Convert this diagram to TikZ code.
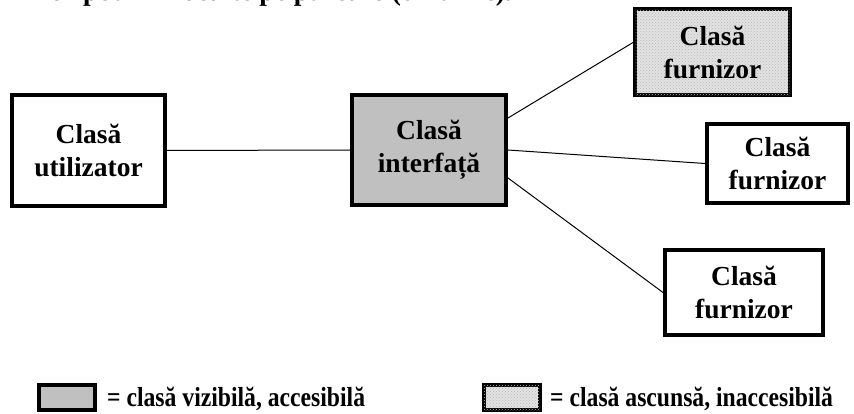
\documentclass[tikz,border=0pt]{standalone}
\usepackage{fontspec}
\setmainfont{Liberation Serif}
\newfontfamily\legendfont[FakeStretch=0.86]{Liberation Serif}
\usetikzlibrary{patterns}
\definecolor{boxgray}{HTML}{C0C0C0}
\definecolor{dotgray}{HTML}{E2E2E2}
\begin{document}
\begin{tikzpicture}[x=1pt,y=-1pt,
  cls/.style={draw, line width=4pt, inner sep=0pt, align=center,
    font=\bfseries\fontsize{27.5}{33}\selectfont},
  visible/.style={fill=boxgray},
  hidden/.style={fill=dotgray, postaction={pattern=crosshatch dots, pattern color=gray!55}},
  link/.style={line width=1pt},
  legtext/.style={anchor=base west, inner sep=0pt, font=\legendfont\bfseries\fontsize{27.5}{30}\selectfont}]
  \useasboundingbox (0,0) rectangle (854,414);

  % caption line above, cut by the page edge
  \begin{scope}
    \clip (0,0) rectangle (854,414);
    \node[anchor=base east, inner sep=0pt, font=\bfseries\fontsize{27.5}{33}\selectfont]
      (title) at (512,1) {Clasele furnizor pot fi înlocuite pe parcurs (dinamic).};
  \end{scope}

  % classes
  \node[cls, minimum width=153pt, minimum height=111pt] (U) at (88.5,150.5) {Clasă\\utilizator};
  \node[cls, visible, minimum width=154pt, minimum height=110pt] (I) at (429,150) {Clasă\\interfață};
  \node[cls, hidden, minimum width=155pt, minimum height=86pt] (F1) at (712.5,52.5) {Clasă\\furnizor};
  \node[cls, minimum width=141pt, minimum height=79pt] (F2) at (777.5,163.5) {Clasă\\furnizor};
  \node[cls, minimum width=158pt, minimum height=85pt] (F3) at (744,292.5) {Clasă\\furnizor};

  % associations
  \draw[link] (U.east) -- (I.west);
  \draw[link] ([yshift=32pt]I.east) -- ([yshift=10pt]F1.west);
  \draw[link] (I.east) -- (F2.west);
  \draw[link] ([yshift=-28pt]I.east) -- (F3.west);

  % legend
  \node[draw, line width=4pt, visible, minimum width=56pt, minimum height=25pt, inner sep=0pt] (L1) at (67,397.5) {};
  \node[legtext] (T1) at (107,406) {= clasă vizibilă, accesibilă};
  \node[draw, line width=4pt, hidden, minimum width=56pt, minimum height=25pt, inner sep=0pt] (L2) at (512,397.5) {};
  \node[legtext] (T2) at (550,406) {= clasă ascunsă, inaccesibilă};
\end{tikzpicture}
\end{document}
